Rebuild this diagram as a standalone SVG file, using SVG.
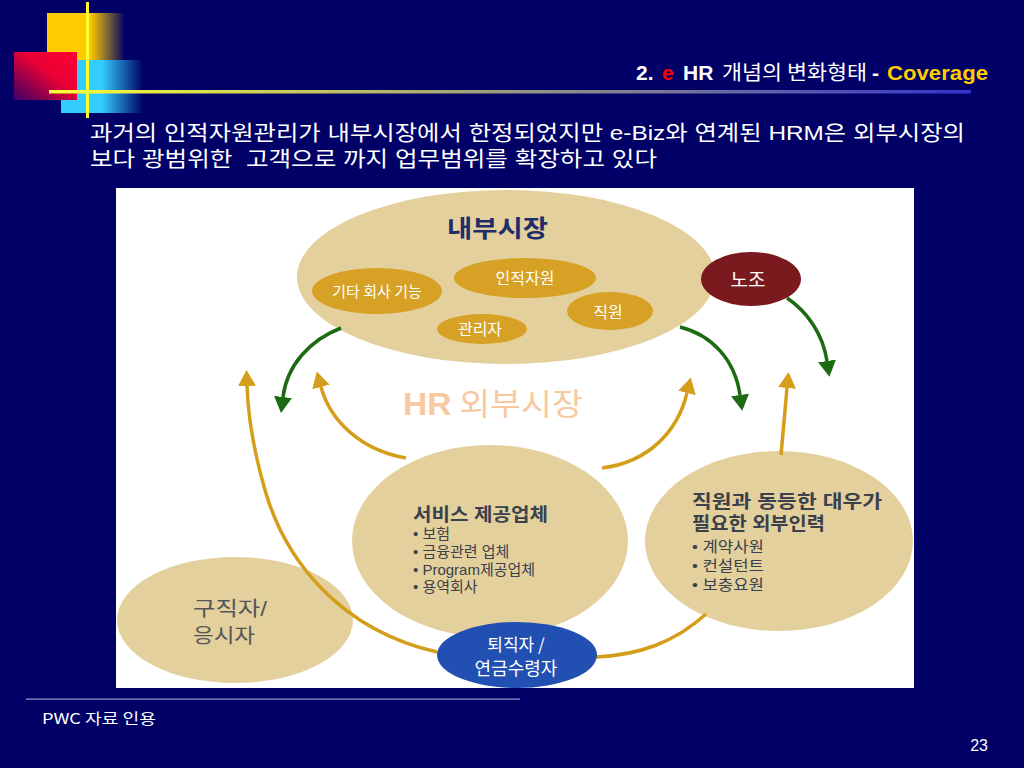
<svg xmlns="http://www.w3.org/2000/svg" width="1024" height="768" viewBox="0 0 1024 768">
<defs>
<style>
.kr{font-family:"Noto Sans CJK KR","Liberation Sans",sans-serif}
.lat{font-family:"Liberation Sans","Noto Sans CJK KR",sans-serif}
.tan{fill:#e3d09c}
.gold{fill:#d6a124}
.lbl{fill:#ffffff;font-family:"Noto Sans CJK KR",sans-serif;text-anchor:middle}
.dark{fill:#3a404c;font-family:"Liberation Sans","Noto Sans CJK KR",sans-serif}
.gcon{fill:none;stroke:#1c6a12;stroke-width:3.5}
.ycon{fill:none;stroke:#d49e1a;stroke-width:3.5}
</style>
<linearGradient id="gYellow" x1="0" y1="0" x2="1" y2="0">
<stop offset="0" stop-color="#ffcc00"/><stop offset="0.55" stop-color="#ffcc00"/><stop offset="1" stop-color="#000066"/>
</linearGradient>
<linearGradient id="gRed" x1="1" y1="0" x2="0" y2="1">
<stop offset="0" stop-color="#ff0033"/><stop offset="0.45" stop-color="#e80035"/><stop offset="1" stop-color="#3a0066"/>
</linearGradient>
<linearGradient id="gCyan" x1="0" y1="0" x2="1" y2="0">
<stop offset="0" stop-color="#33ccff"/><stop offset="0.5" stop-color="#33ccff"/><stop offset="1" stop-color="#000066"/>
</linearGradient>
<linearGradient id="gLine" gradientUnits="userSpaceOnUse" x1="49" y1="0" x2="971" y2="0">
<stop offset="0" stop-color="#ffff33"/><stop offset="1" stop-color="#3333cc"/>
</linearGradient>
<marker id="ahG" markerUnits="userSpaceOnUse" markerWidth="16" markerHeight="18" refX="0" refY="9" orient="auto" viewBox="0 0 16 18"><path d="M0,0 L16,9 L0,18 z" fill="#1c6a12"/></marker>
<marker id="ahY" markerUnits="userSpaceOnUse" markerWidth="16" markerHeight="18" refX="0" refY="9" orient="auto" viewBox="0 0 16 18"><path d="M0,0 L16,9 L0,18 z" fill="#d49e1a"/></marker>
</defs>

<rect x="0" y="0" width="1024" height="768" fill="#000066"/>

<g id="decoration">
<rect x="47" y="13" width="78" height="47" fill="url(#gYellow)"/>
<rect x="61" y="60" width="82" height="53" fill="url(#gCyan)"/>
<rect x="14" y="52" width="63" height="48" fill="url(#gRed)"/>
<rect x="86" y="2" width="3" height="116" fill="#ffff33"/>
<rect x="49" y="90" width="922" height="3.5" fill="url(#gLine)"/>
</g>

<g id="title">
<text y="80" font-size="21" font-weight="bold" class="lat" fill="#ffffff"><tspan x="636">2.</tspan><tspan x="662" fill="#ff0000">e</tspan><tspan x="683">HR</tspan><tspan x="722" font-weight="normal" font-size="20" class="kr" textLength="145" lengthAdjust="spacingAndGlyphs">개념의 변화형태</tspan><tspan x="872">-</tspan><tspan x="887" fill="#ffcc00" textLength="101" lengthAdjust="spacingAndGlyphs">Coverage</tspan></text>
</g>

<g id="subtitle" class="lat" fill="#ffffff" font-size="21">
<text x="90" y="140" textLength="875" lengthAdjust="spacingAndGlyphs">과거의 인적자원관리가 내부시장에서 한정되었지만 e-Biz와 연계된 HRM은 외부시장의</text>
<text x="90" y="166" xml:space="preserve" textLength="567" lengthAdjust="spacingAndGlyphs">보다 광범위한  고객으로 까지 업무범위를 확장하고 있다</text>
</g>

<rect id="panel" x="116" y="188" width="798" height="500" fill="#ffffff"/>

<g id="node-internal">
<ellipse class="tan" cx="506" cy="277" rx="209" ry="87"/>
<text x="447" y="237" font-size="24" font-weight="bold" fill="#1f2d6b" class="kr" textLength="101" lengthAdjust="spacingAndGlyphs">내부시장</text>
</g>
<g id="node-other">
<ellipse class="gold" cx="377" cy="291" rx="65" ry="23"/>
<text class="lbl" x="377" y="297" font-size="15">기타 회사 기능</text>
</g>
<g id="node-hr">
<ellipse class="gold" cx="525" cy="278" rx="71" ry="20"/>
<text class="lbl" x="525" y="284" font-size="16">인적자원</text>
</g>
<g id="node-staff">
<ellipse class="gold" cx="610" cy="311" rx="43" ry="19"/>
<text class="lbl" x="608" y="318" font-size="16">직원</text>
</g>
<g id="node-manager">
<ellipse class="gold" cx="482" cy="329" rx="45" ry="15"/>
<text class="lbl" x="480" y="335" font-size="16">관리자</text>
</g>

<g id="node-external-label">
<text x="403" y="415" font-size="31" fill="#f8c9a0" class="lat" textLength="180" lengthAdjust="spacingAndGlyphs"><tspan font-weight="bold">HR</tspan><tspan class="kr"> 외부시장</tspan></text>
</g>

<g id="node-applicant">
<ellipse class="tan" cx="235" cy="620" rx="118" ry="63"/>
<text x="193" y="616" font-size="20" fill="#55565a" class="lat" textLength="74" lengthAdjust="spacingAndGlyphs">구직자/</text>
<text x="193" y="643" font-size="20" fill="#55565a" class="lat" textLength="62" lengthAdjust="spacingAndGlyphs">응시자</text>
</g>

<g id="node-service">
<ellipse class="tan" cx="490" cy="541" rx="138" ry="96"/>
<text class="dark" x="413" y="521" font-size="18" font-weight="bold" textLength="135" lengthAdjust="spacingAndGlyphs">서비스 제공업체</text>
<text class="dark" x="413" y="539" font-size="15">• 보험</text>
<text class="dark" x="413" y="557" font-size="15">• 금융관련 업체</text>
<text class="dark" x="413" y="575" font-size="15">• Program제공업체</text>
<text class="dark" x="413" y="592" font-size="15">• 용역회사</text>
</g>

<g id="node-outsource">
<ellipse class="tan" cx="779" cy="541" rx="134" ry="90"/>
<text class="dark" x="692" y="508" font-size="18.5" font-weight="bold" textLength="190" lengthAdjust="spacingAndGlyphs">직원과 동등한 대우가</text>
<text class="dark" x="692" y="530" font-size="18.5" font-weight="bold" textLength="133" lengthAdjust="spacingAndGlyphs">필요한 외부인력</text>
<text class="dark" x="692" y="552" font-size="15" textLength="72" lengthAdjust="spacingAndGlyphs">• 계약사원</text>
<text class="dark" x="692" y="571" font-size="15" textLength="72" lengthAdjust="spacingAndGlyphs">• 컨설턴트</text>
<text class="dark" x="692" y="590" font-size="15" textLength="72" lengthAdjust="spacingAndGlyphs">• 보충요원</text>
</g>

<g id="connectors">
<path class="gcon" d="M341,328 C310,340 287,365 283,397" marker-end="url(#ahG)"/>
<path class="gcon" d="M680,327 C712,335 735,360 740,395" marker-end="url(#ahG)"/>
<path class="gcon" d="M787,298 C808,312 823,335 827,361" marker-end="url(#ahG)"/>
<path class="ycon" d="M437,652 C340,630 285,560 265,490 C252,445 248,415 247,386" marker-end="url(#ahY)"/>
<path class="ycon" d="M406,458 C360,450 330,420 321,387" marker-end="url(#ahY)"/>
<path class="ycon" d="M602,468 C650,462 678,430 687,393" marker-end="url(#ahY)"/>
<path class="ycon" d="M781,455 Q784,420 787,388" marker-end="url(#ahY)"/>
<path class="ycon" d="M596,657 C640,655 675,642 706,614"/>
</g>

<g id="node-union">
<ellipse cx="751" cy="279" rx="50" ry="27" fill="#7a1a1e"/>
<text class="lbl" x="748" y="287" font-size="19">노조</text>
</g>

<g id="node-retiree">
<ellipse cx="517" cy="655" rx="80" ry="33" fill="#2150b2"/>
<text class="lbl" x="516" y="651" font-size="17">퇴직자 /</text>
<text class="lbl" x="516" y="675" font-size="18">연금수령자</text>
</g>

<g id="footer">
<rect x="26" y="698.5" width="494" height="1.2" fill="#9a9ad0"/>
<text x="42" y="724" font-size="15" fill="#ffffff" class="kr" textLength="114" lengthAdjust="spacingAndGlyphs">PWC 자료 인용</text>
<text x="988" y="751" font-size="16" fill="#ffffff" class="lat" text-anchor="end">23</text>
</g>
</svg>
